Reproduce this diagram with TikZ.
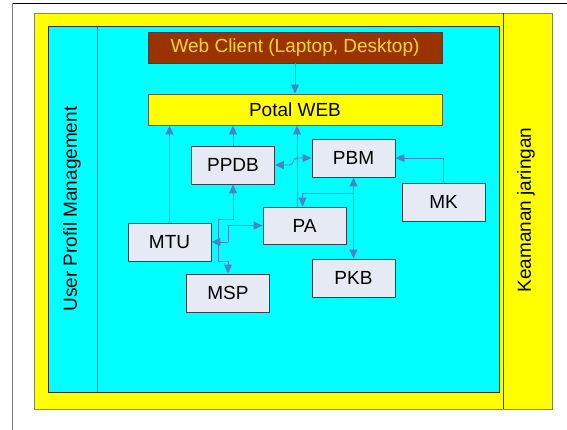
\documentclass[tikz,border=0pt]{standalone}
\usepackage{fontspec}
\setmainfont{Liberation Sans}
\usetikzlibrary{calc,arrows.meta}
\definecolor{cyanbg}{RGB}{0,255,255}
\definecolor{yel}{RGB}{255,255,0}
\definecolor{olive}{RGB}{140,135,80}
\definecolor{brownbox}{RGB}{153,51,0}
\definecolor{webtext}{RGB}{255,215,40}
\definecolor{boxfill}{RGB}{230,234,245}
\definecolor{boxline}{RGB}{60,62,80}
\definecolor{arrcol}{RGB}{79,129,200}
\tikzset{
  mbox/.style={draw=boxline, fill=boxfill, line width=0.9pt, minimum width=83pt, minimum height=38pt, inner sep=0pt, font=\fontsize{19}{22}\selectfont},
  widebox/.style={draw=boxline, line width=0.9pt, minimum width=294pt, minimum height=31pt, inner sep=0pt, font=\fontsize{19}{22}\selectfont},
  arr/.style={draw=arrcol, line width=0.9pt, -{Triangle[length=9pt,width=8pt]}},
  arrboth/.style={draw=arrcol, line width=0.9pt, {Triangle[length=9pt,width=8pt]}-{Triangle[length=9pt,width=8pt]}},
  sidelabel/.style={rotate=90, font=\fontsize{19}{22}\selectfont}
}
\begin{document}
\begin{tikzpicture}[x=1pt,y=-1pt]
\useasboundingbox (0,0) rectangle (567,430);
\fill[white] (0,0) rectangle (567,430);
% page frame
\draw[black, line width=0.8pt] (12,3) -- (567,3);
\draw[gray, line width=0.8pt] (12,3) -- (12,430);
% panels
\draw[olive, fill=yel, line width=0.9pt] (34,13) rectangle (552,409);
\draw[black!80, fill=cyanbg, line width=0.9pt] (48,26) rectangle (499,392);
\draw[black!80, line width=0.8pt] (503,13) -- (503,409);
\draw[black!70!cyan, line width=0.7pt] (97,26) -- (97,392);
\node[sidelabel] (upm) at (72,209) {User Profil Management};
\node[sidelabel] (kj) at (526,210) {Keamanan jaringan};
% boxes
\node[widebox, fill=brownbox, text=webtext] (web) at (295,47.5) {Web Client (Laptop, Desktop)};
\node[widebox, fill=yel, draw=olive!70!black, minimum height=31pt] (portal) at (295,109.5) {Potal WEB};
\node[mbox] (ppdb) at (233,165) {PPDB};
\node[mbox] (pbm) at (353.5,158) {PBM};
\node[mbox] (mk) at (443.5,202) {MK};
\node[mbox, minimum height=37pt] (pa) at (304.5,225.5) {PA};
\node[mbox] (mtu) at (169.5,242) {MTU};
\node[mbox] (pkb) at (353.5,278) {PKB};
\node[mbox] (msp) at (228,293) {MSP};
% connectors
\draw[arr] (web.south) -- (portal.north);
\draw[arr] (mtu.north) -- (mtu.north |- portal.south);
\draw[arr] (ppdb.north) -- (ppdb.north |- portal.south);
\draw[arr] ([xshift=-7.5pt]pa.north) -- ([xshift=-7.5pt]pa.north |- portal.south);
\draw[arrboth] (ppdb.east) -- ($(ppdb.east)+(14,0)$) .. controls ($(ppdb.east)+(20,0)$) and ($(pbm.west)+(-20,0)$) .. ($(pbm.west)+(-14,0)$) -- (pbm.west);
\draw[arr] (mk.north) |- (pbm.east);
\draw[arrboth] (pbm.south) -- (pkb.north);
\coordinate (j1) at ($(pbm.south)+(0,16)$);
\draw[arr] (j1) -| ([xshift=-2pt]pa.north);
\coordinate (bus) at ($(mtu.east)+(7,0)$);
\coordinate (bus2) at ($(mtu.east)+(17,0)$);
\draw[arr] (bus2) -- (mtu.east);
\draw[arr] (bus2) |- (pa.west);
\draw[arr] (bus) -- ++(0,-23) -| (ppdb.south);
\draw[arr] (bus) -- ++(0,19) -| (msp.north);
\end{tikzpicture}
\end{document}
